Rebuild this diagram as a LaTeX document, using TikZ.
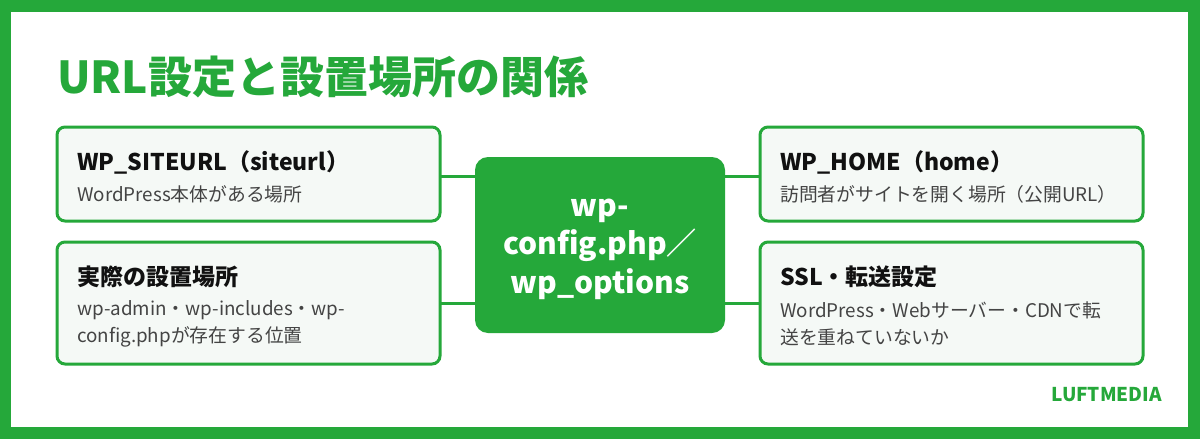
\documentclass[tikz,border=0pt]{standalone}
\usepackage{fontspec}
\setmainfont{Noto Sans CJK JP}
\newfontfamily\jp{Noto Sans CJK JP}
\definecolor{lgreen}{HTML}{25A83A}
\definecolor{boxfill}{HTML}{F5F9F6}
\definecolor{txtdark}{HTML}{111111}
\definecolor{txtgray}{HTML}{444444}
\tikzset{
  x=1pt, y=-1pt,
  card/.style={draw=lgreen, line width=3pt, fill=boxfill, rounded corners=8pt},
  hub/.style={fill=lgreen, rounded corners=13pt},
  link/.style={draw=lgreen, line width=3pt},
  ctitle/.style={anchor=west, inner sep=0pt, text=txtdark, font=\jp\bfseries\fontsize{23}{27}\selectfont},
  csub/.style={anchor=west, inner sep=0pt, text=txtgray, align=left, font=\jp\fontsize{18.8}{27}\selectfont},
}
\begin{document}
\begin{tikzpicture}
\useasboundingbox (0,0) rectangle (1200,439);
\fill[lgreen] (0,0) rectangle (1200,439);
\fill[white] (11,12) rectangle (1188,427);
\node[anchor=west, inner sep=0pt, text=lgreen, font=\jp\bfseries\fontsize{44}{50}\selectfont] (title) at (57,77) {URL設定と設置場所の関係};
% cards
\path[card] (57,127) rectangle (440,221); \coordinate (c1) at (440,176);
\path[card] (57,242) rectangle (440,364); \coordinate (c2) at (440,303);
\path[card] (760,127) rectangle (1143,221); \coordinate (c3) at (760,176);
\path[card] (760,242) rectangle (1143,364); \coordinate (c4) at (760,303);
% hub
\path[hub] (475,157) rectangle (725,333);
\coordinate (h1) at (475,176); \coordinate (h2) at (475,303);
\coordinate (h3) at (725,176); \coordinate (h4) at (725,303);
\node[inner sep=0pt, text=white, align=center, font=\jp\bfseries\fontsize{30}{38.5}\selectfont] (hubtext) at (600,249) {wp-\\config.php／\\wp\_options};
\draw[link] (c1) -- (h1);
\draw[link] (c2) -- (h2);
\draw[link] (h3) -- (c3);
\draw[link] (h4) -- (c4);
% texts
\node[ctitle] (t1) at (77,162) {WP\_SITEURL（siteurl）};
\node[csub] (s1) at (77,194) {WordPress本体がある場所};
\node[ctitle] (t2) at (77,277) {実際の設置場所};
\node[csub] (s2) at (77,323.5) {wp-admin・wp-includes・wp-\\config.phpが存在する位置};
\node[ctitle] (t3) at (780,162) {WP\_HOME（home）};
\node[csub] (s3) at (780,194) {訪問者がサイトを開く場所（公開URL）};
\node[ctitle] (t4) at (780,277) {SSL・転送設定};
\node[csub] (s4) at (780,323.5) {WordPress・Webサーバー・CDNで転\\送を重ねていないか};
\node[anchor=east, inner sep=0pt, text=lgreen, font=\jp\bfseries\fontsize{19}{22}\selectfont] (brand) at (1162,395) {LUFTMEDIA};
\end{tikzpicture}
\end{document}
